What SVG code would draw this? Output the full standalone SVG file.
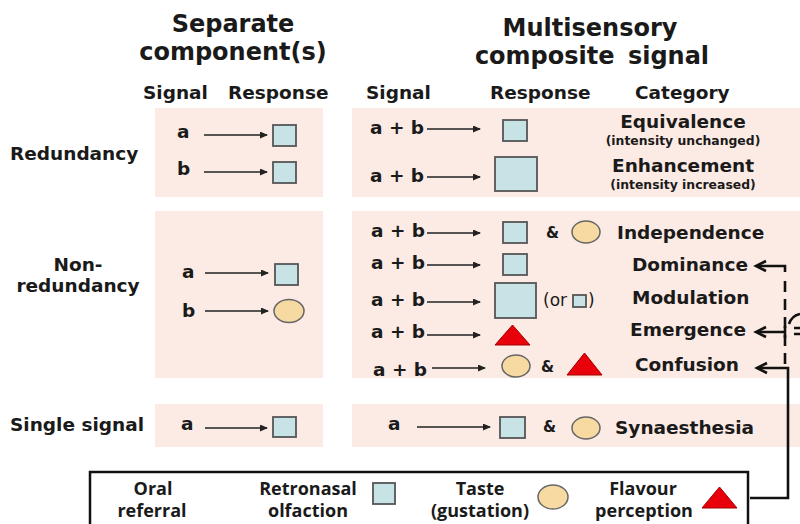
<svg xmlns="http://www.w3.org/2000/svg" width="800" height="524" viewBox="0 0 800 524">
  <defs>
    <marker id="tip" markerUnits="userSpaceOnUse" markerWidth="8" markerHeight="7" refX="7" refY="3.5" orient="auto">
      <path d="M0,0 L8,3.5 L0,7 z" fill="#222"/>
    </marker>
    <style>
      text { font-family: "DejaVu Sans", "Liberation Sans", sans-serif; font-weight: bold; fill: #1a1a1a; }
      .title { font-size: 24px; text-anchor: middle; }
      .lbl { font-size: 18.5px; }
      .mid { text-anchor: middle; }
      .note { font-size: 12.4px; text-anchor: middle; }
      .amp { font-size: 15px; }
      .or { font-size: 17px; font-weight: normal; }
      .leg { font-family: "Open Sans", "Noto Sans", sans-serif; font-size: 18px; text-anchor: middle; }
      .panel { fill: #fcebe4; }
      .sq { fill: #c8e3e6; stroke: #555; stroke-width: 1.8; }
      .ov { fill: #f7d9a2; stroke: #666; stroke-width: 1.5; }
      .tri { fill: #e8000b; stroke: #a30000; stroke-width: 1; }
      .arr { stroke: #222; stroke-width: 1.3; fill: none; marker-end: url(#tip); }
      .con { stroke: #111; stroke-width: 2.6; fill: none; }
      .dash { stroke-dasharray: 11 7; }
    </style>
  </defs>

  <rect width="800" height="524" fill="#ffffff"/>

  <!-- column titles and headers -->
  <g id="headers">
    <text class="title" x="233" y="32">Separate</text>
    <text class="title" x="233" y="60">component(s)</text>
    <text class="title" x="590" y="36">Multisensory</text>
    <text class="title" x="592" y="64" word-spacing="5">composite signal</text>
    <text class="lbl" x="143" y="99">Signal</text>
    <text class="lbl" x="228" y="99">Response</text>
    <text class="lbl" x="366" y="99">Signal</text>
    <text class="lbl" x="490" y="99">Response</text>
    <text class="lbl" x="635" y="99">Category</text>
  </g>

  <!-- row labels -->
  <g id="row-labels">
    <text class="lbl" x="10" y="160">Redundancy</text>
    <text class="lbl mid" x="78" y="271">Non-</text>
    <text class="lbl mid" x="78" y="292">redundancy</text>
    <text class="lbl" x="10" y="431">Single signal</text>
  </g>

  <!-- separate components: redundancy -->
  <g id="sep-redundancy">
    <rect class="panel" x="155" y="108" width="168" height="89"/>
    <text class="lbl" x="177" y="138">a</text>
    <line class="arr" x1="204" y1="135" x2="267" y2="135"/>
    <rect class="sq" x="273" y="125" width="23" height="21"/>
    <text class="lbl" x="177" y="175">b</text>
    <line class="arr" x1="204" y1="172" x2="267" y2="172"/>
    <rect class="sq" x="273" y="162" width="23" height="21"/>
  </g>

  <!-- composite: redundancy -->
  <g id="comp-redundancy">
    <rect class="panel" x="352" y="108" width="448" height="89"/>
    <text class="lbl" x="370" y="134">a + b</text>
    <line class="arr" x1="427" y1="129" x2="480" y2="129"/>
    <rect class="sq" x="503" y="120" width="24" height="21"/>
    <text class="lbl mid" x="683" y="128">Equivalence</text>
    <text class="note" x="683" y="145">(intensity unchanged)</text>
    <text class="lbl" x="370" y="182">a + b</text>
    <line class="arr" x1="427" y1="177" x2="480" y2="177"/>
    <rect class="sq" x="495" y="157" width="42" height="34"/>
    <text class="lbl mid" x="683" y="172">Enhancement</text>
    <text class="note" x="683" y="189">(intensity increased)</text>
  </g>

  <!-- separate components: non-redundancy -->
  <g id="sep-nonredundancy">
    <rect class="panel" x="155" y="211" width="168" height="167"/>
    <text class="lbl" x="182" y="278">a</text>
    <line class="arr" x1="205" y1="273" x2="268" y2="273"/>
    <rect class="sq" x="275" y="264" width="23" height="21"/>
    <text class="lbl" x="182" y="317">b</text>
    <line class="arr" x1="205" y1="311" x2="268" y2="311"/>
    <ellipse class="ov" cx="289" cy="311" rx="15" ry="11.5"/>
  </g>

  <!-- composite: non-redundancy -->
  <g id="comp-nonredundancy">
    <rect class="panel" x="352" y="211" width="448" height="167"/>
    <text class="lbl" x="371" y="237">a + b</text>
    <line class="arr" x1="427" y1="233" x2="480" y2="233"/>
    <rect class="sq" x="503" y="222" width="24" height="21"/>
    <text class="amp" x="546" y="238">&amp;</text>
    <ellipse class="ov" cx="586" cy="232" rx="14" ry="11"/>
    <text class="lbl" x="617" y="239">Independence</text>

    <text class="lbl" x="371" y="269">a + b</text>
    <line class="arr" x1="427" y1="265" x2="480" y2="265"/>
    <rect class="sq" x="503" y="254" width="24" height="21"/>
    <text class="lbl" x="632" y="271">Dominance</text>

    <text class="lbl" x="371" y="306">a + b</text>
    <line class="arr" x1="427" y1="302" x2="480" y2="302"/>
    <rect class="sq" x="495" y="283" width="41" height="35"/>
    <text class="or" x="543" y="306">(or</text>
    <rect class="sq" x="573" y="295" width="13" height="12" stroke-width="1.4"/>
    <text class="or" x="588" y="306">)</text>
    <text class="lbl" x="632" y="304">Modulation</text>

    <text class="lbl" x="371" y="338">a + b</text>
    <line class="arr" x1="427" y1="335" x2="480" y2="335"/>
    <polygon class="tri" points="495,345 530,345 512.5,325"/>
    <text class="lbl" x="630" y="336">Emergence</text>

    <text class="lbl" x="373" y="376">a + b</text>
    <line class="arr" x1="432" y1="368" x2="485" y2="368"/>
    <ellipse class="ov" cx="516" cy="366" rx="14" ry="11"/>
    <text class="amp" x="541" y="372">&amp;</text>
    <polygon class="tri" points="567,375 602,375 584.5,353"/>
    <text class="lbl" x="635" y="371">Confusion</text>
  </g>

  <!-- single signal -->
  <g id="sep-single">
    <rect class="panel" x="155" y="404" width="168" height="43"/>
    <text class="lbl" x="181" y="430">a</text>
    <line class="arr" x1="205" y1="428" x2="267" y2="428"/>
    <rect class="sq" x="273" y="417" width="23" height="20"/>
  </g>

  <g id="comp-single">
    <rect class="panel" x="352" y="404" width="448" height="43"/>
    <text class="lbl" x="388" y="430">a</text>
    <line class="arr" x1="417" y1="427" x2="490" y2="427"/>
    <rect class="sq" x="500" y="417" width="25" height="21"/>
    <text class="amp" x="543" y="432">&amp;</text>
    <ellipse class="ov" cx="586" cy="428" rx="14" ry="11"/>
    <text class="lbl" x="615" y="434">Synaesthesia</text>
  </g>

  <!-- legend -->
  <g id="legend">
    <rect x="90" y="472" width="658" height="80" fill="#ffffff" stroke="#111" stroke-width="2.5"/>
    <text class="leg" x="153" y="495">Oral</text>
    <text class="leg" x="152" y="517">referral</text>
    <text class="leg" x="308" y="495">Retronasal</text>
    <text class="leg" x="308" y="517">olfaction</text>
    <rect class="sq" x="373" y="483" width="22" height="21"/>
    <text class="leg" x="480" y="495">Taste</text>
    <text class="leg" x="480" y="517">(gustation)</text>
    <ellipse class="ov" cx="553" cy="497" rx="15" ry="12"/>
    <text class="leg" x="643" y="495">Flavour</text>
    <text class="leg" x="644" y="517">perception</text>
    <polygon class="tri" points="702,508 737,508 719.5,487"/>
  </g>

  <!-- connectors -->
  <g id="connectors">
    <path class="con" d="M757,266 H785 V272"/>
    <line class="con dash" x1="785" y1="281" x2="785" y2="366"/>
    <polyline class="con" points="766,261 756,266 766,271"/>
    <path class="con" d="M757,332 H785 M785,326 V338"/>
    <polyline class="con" points="766,327 756,332 766,337"/>
    <path class="con" d="M750,498 H788 V368 H757"/>
    <polyline class="con" points="767,363 757,368 767,373"/>
    <path class="con" d="M789,324 C791,318 795,315 800,314"/>
    <path class="con" d="M794,328 H800 M794,334 H800"/>
  </g>
</svg>
